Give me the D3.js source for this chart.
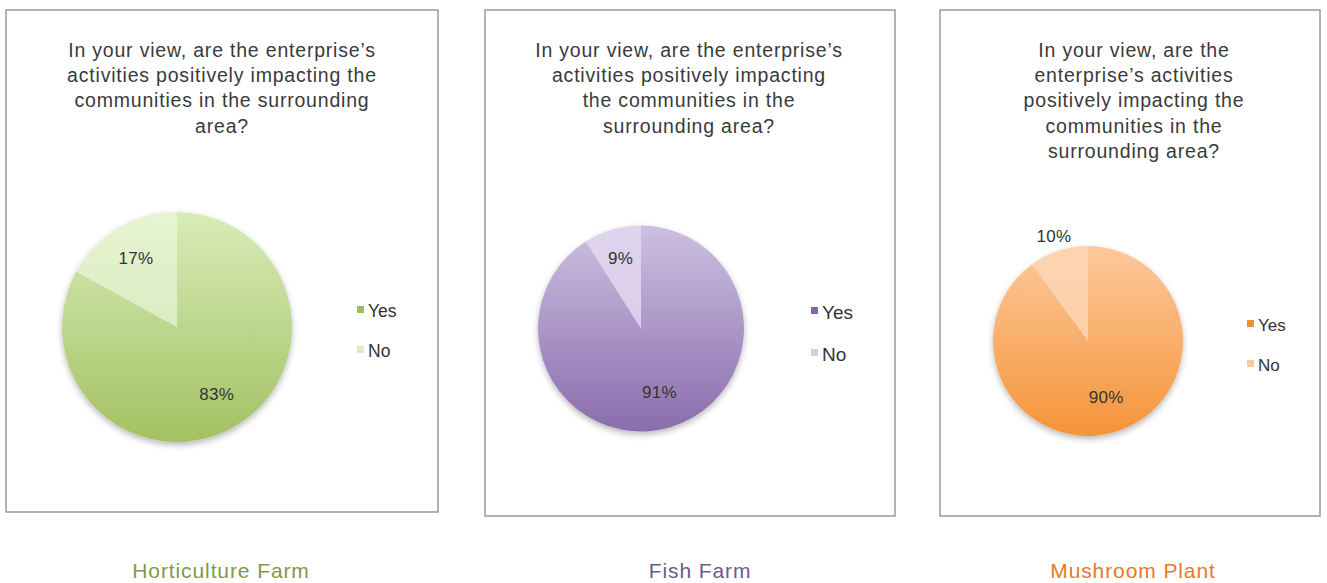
<!DOCTYPE html>
<html>
<head>
<meta charset="utf-8">
<script src="https://cdn.jsdelivr.net/npm/d3@7"></script>
<style>
  html, body { margin: 0; padding: 0; background: #fff; }
  svg { display: block; }
  text { font-family: "Liberation Sans", Arial, sans-serif; }
</style>
</head>
<body>
<svg id="chart" width="1327" height="583"></svg>
<script>
// Survey results per site
const sites = ["Horticulture Farm", "Fish Farm", "Mushroom Plant"];
const answers = ["Yes", "No"];
const yesShare = [83, 91, 90];
const noShare = [17, 9, 10];

// Question text as wrapped in each panel
const questionLines = [
  ["In your view, are the enterprise\u2019s", "activities positively impacting the", "communities in the surrounding", "area?"],
  ["In your view, are the enterprise\u2019s", "activities positively impacting", "the communities in the", "surrounding area?"],
  ["In your view, are the", "enterprise\u2019s activities", "positively impacting the", "communities in the", "surrounding area?"]
];

// Palette per site: gradient top/bottom for Yes, gradient for No, legend swatches, caption colour
const palettes = [
  { yesTop: "#d8ecb9", yesBot: "#a2c161", noTop: "#e6f4d2", noBot: "#d0e5b2", yesKey: "#9cbf5b", noKey: "#d9edbf", caption: "#7f9a45" },
  { yesTop: "#cdc0e1", yesBot: "#8a6dad", noTop: "#e0d5ee", noBot: "#d3c6e6", yesKey: "#8466a9", noKey: "#d8cbe8", caption: "#6b5a8c" },
  { yesTop: "#fcc99d", yesBot: "#f59438", noTop: "#fdd5b3", noBot: "#fbc9a0", yesKey: "#f5902f", noKey: "#fcc89d", caption: "#e8782a" }
];

// Panel layout
const layout = [
  { box: [6, 10, 432, 502], titleX: 222, titleY: 50, lineH: 25.3,
    cx: 177, cy: 327, r: 115, lab: [0.68, 0.70], legX: 358, legY: 311, legGap: 40, legFs: 17.5, capX: 221 },
  { box: [485, 10, 410, 506], titleX: 689, titleY: 50, lineH: 25.3,
    cx: 641, cy: 328.5, r: 103, lab: [0.64, 0.71], legX: 812, legY: 312, legGap: 42, legFs: 19, capX: 700 },
  { box: [940, 10, 380, 506], titleX: 1134, titleY: 50, lineH: 25.3,
    cx: 1088, cy: 341, r: 95, lab: [0.62, 1.16], legX: 1248, legY: 325, legGap: 40, legFs: 17, capX: 1133 }
];

const svg = d3.select("#chart");
const defs = svg.append("defs");

const shadow = defs.append("filter").attr("id", "pieShadow")
  .attr("x", "-20%").attr("y", "-20%").attr("width", "140%").attr("height", "140%");
shadow.append("feDropShadow").attr("dx", 0).attr("dy", 3).attr("stdDeviation", 3)
  .attr("flood-color", "#000").attr("flood-opacity", 0.28);

const pie = d3.pie().sort(null).value(d => d.value);

sites.forEach((site, i) => {
  const L = layout[i], P = palettes[i];
  const g = svg.append("g");

  // Panel frame
  g.append("rect")
    .attr("x", L.box[0]).attr("y", L.box[1])
    .attr("width", L.box[2]).attr("height", L.box[3])
    .attr("fill", "#fff").attr("stroke", "#9a9a9a").attr("stroke-width", 1.5);

  // Question
  g.append("text")
    .attr("x", L.titleX).attr("y", L.titleY)
    .attr("text-anchor", "middle").attr("fill", "#3a3a3a")
    .style("font-size", "19.5px").style("letter-spacing", "0.8px")
    .selectAll("tspan").data(questionLines[i]).join("tspan")
    .attr("x", L.titleX).attr("y", (d, k) => L.titleY + k * L.lineH)
    .attr("dy", "0.35em")
    .text(d => d);

  // Vertical gradients for slices, in the pie's local coordinates
  const gradY = d3.scaleLinear().domain([0, 1]).range([-L.r, L.r]);
  [["yes", P.yesTop, P.yesBot], ["no", P.noTop, P.noBot]].forEach(([k, top, bot]) => {
    const lg = defs.append("linearGradient").attr("id", `grad-${i}-${k}`)
      .attr("gradientUnits", "userSpaceOnUse")
      .attr("x1", 0).attr("x2", 0).attr("y1", gradY(0)).attr("y2", gradY(1));
    lg.append("stop").attr("offset", "0%").attr("stop-color", top);
    lg.append("stop").attr("offset", "100%").attr("stop-color", bot);
  });

  const data = [
    { key: answers[0], value: yesShare[i], fill: `url(#grad-${i}-yes)` },
    { key: answers[1], value: noShare[i], fill: `url(#grad-${i}-no)` }
  ];
  const arcs = pie(data);
  const arc = d3.arc().innerRadius(0).outerRadius(L.r);

  const pg = g.append("g").attr("transform", `translate(${L.cx},${L.cy})`);
  pg.append("g").attr("filter", "url(#pieShadow)")
    .selectAll("path").data(arcs).join("path")
    .attr("d", arc)
    .attr("fill", d => d.data.fill);

  // Percentage labels
  pg.selectAll("text.pct").data(arcs).join("text")
    .attr("class", "pct")
    .attr("transform", (d, k) => {
      const lr = L.r * L.lab[k];
      const c = d3.arc().innerRadius(lr).outerRadius(lr).centroid(d);
      return `translate(${c[0]},${c[1]})`;
    })
    .attr("text-anchor", "middle").attr("dy", "0.35em")
    .attr("fill", "#333").style("font-size", "17px").style("letter-spacing", "0.3px")
    .text(d => d.data.value + "%");

  // Legend
  const leg = g.append("g");
  answers.forEach((a, k) => {
    const y = L.legY + k * L.legGap;
    leg.append("rect").attr("x", L.legX - 1).attr("y", y - 5)
      .attr("width", 7).attr("height", 7)
      .attr("fill", k === 0 ? P.yesKey : P.noKey);
    leg.append("text").attr("x", L.legX + 10).attr("y", y)
      .attr("dy", "0.35em").attr("fill", "#333")
      .style("font-size", L.legFs + "px")
      .text(a);
  });

  // Site caption below the panel
  g.append("text")
    .attr("x", L.capX).attr("y", 578)
    .attr("text-anchor", "middle")
    .attr("fill", P.caption).style("font-size", "21px").style("letter-spacing", "0.9px")
    .text(site);
});
</script>
</body>
</html>
